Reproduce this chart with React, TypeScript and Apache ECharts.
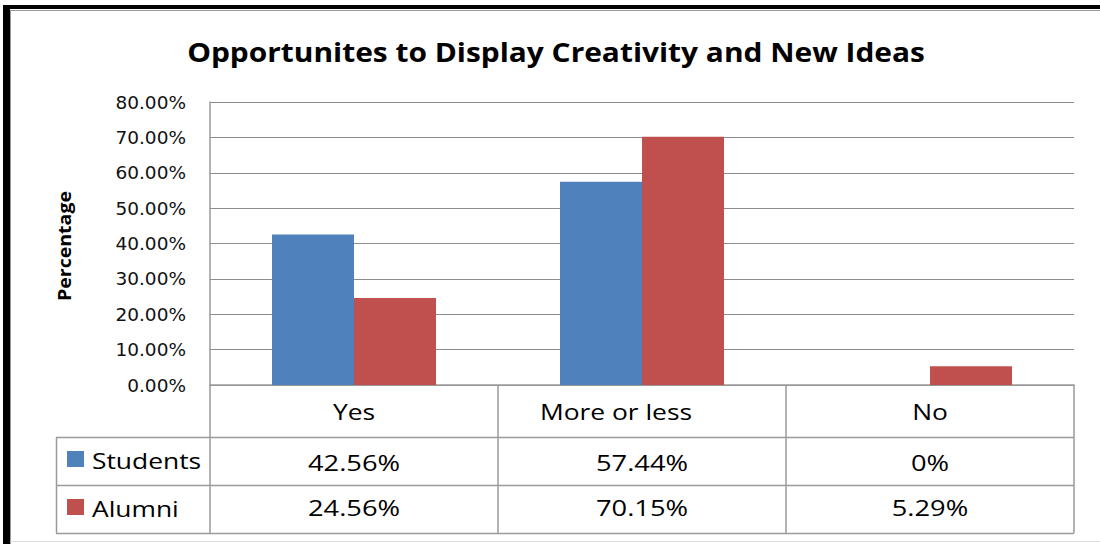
import React, { useEffect, useRef } from "react";
import * as echarts from "echarts";

const categories = ["Yes", "More or less", "No"];
const seriesNames = ["Students", "Alumni"];
const studentsValues = [42.56, 57.44, 0];
const alumniValues = [24.56, 70.15, 5.29];
const studentsLabels = ["42.56%", "57.44%", "0%"];
const alumniLabels = ["24.56%", "70.15%", "5.29%"];
const titleText = "Opportunites to Display Creativity and New Ideas";
const yAxisName = "Percentage";

const BLUE = "#4F81BD";
const RED = "#C0504D";
const LINE = "#9a9a9a";
const FONT = "'Open Sans', 'DejaVu Sans', sans-serif";
const SX = 1.2;
// horizontal nudges of the category header texts (as in the source picture)
const CAT_SHIFT = [0, -26, 0];

export default function App() {
  const ref = useRef<HTMLDivElement>(null);
  useEffect(() => {
    if (!ref.current) return;
    const chart = echarts.init(ref.current, null, { renderer: "svg" });
    const W = 1100, H = 544;
    const gl = 210, gr = 1074, gb = 385;
    const rowY = [437, 485, 533];
    const colW = (gr - gl) / categories.length;
    const graphics: any[] = [];
    // frame
    graphics.push({ type: "rect", shape: { x: 3, y: 5, width: W, height: 4 }, style: { fill: "#000" } });
    graphics.push({ type: "rect", shape: { x: 3, y: 5, width: 7, height: H }, style: { fill: "#000" } });
    graphics.push({ type: "line", shape: { x1: 11, y1: 10.5, x2: W, y2: 10.5 }, style: { stroke: "#999", lineWidth: 1 } });
    graphics.push({ type: "line", shape: { x1: 10.5, y1: 10, x2: 10.5, y2: H }, style: { stroke: "#999", lineWidth: 1 } });
    graphics.push({ type: "line", shape: { x1: 10, y1: 541.5, x2: W, y2: 541.5 }, style: { stroke: "#ddd", lineWidth: 1 } });
    // title
    graphics.push({
      type: "text", x: 556, y: 52, scaleX: 1.15,
      style: { text: titleText, font: `bold 26px ${FONT}`, fill: "#000", textAlign: "center", textVerticalAlign: "middle" },
    });
    // y axis name
    graphics.push({
      type: "text", x: 64, y: 246, rotation: Math.PI / 2, scaleX: 1.15,
      style: { text: yAxisName, font: `bold 17px ${FONT}`, fill: "#000", textAlign: "center", textVerticalAlign: "middle" },
    });
    // table lines
    rowY.forEach((y) => {
      graphics.push({ type: "line", shape: { x1: 56, y1: y + 0.5, x2: gr, y2: y + 0.5 }, style: { stroke: LINE, lineWidth: 1.5 } });
    });
    graphics.push({ type: "line", shape: { x1: 56.5, y1: rowY[0], x2: 56.5, y2: rowY[2] }, style: { stroke: LINE, lineWidth: 1.5 } });
    // category labels
    categories.forEach((c, i) => {
      graphics.push({
        type: "text", x: gl + colW * (i + 0.5) + CAT_SHIFT[i], y: 411, scaleX: SX,
        style: { text: c, font: `22px ${FONT}`, fill: "#000", textAlign: "center", textVerticalAlign: "middle" },
      });
    });
    // legend keys + values
    const rows = [
      { name: seriesNames[0], color: BLUE, labels: studentsLabels, cy: 460, ty: 463 },
      { name: seriesNames[1], color: RED, labels: alumniLabels, cy: 508, ty: 508 },
    ];
    rows.forEach((r) => {
      graphics.push({ type: "rect", shape: { x: 67, y: r.cy - 9, width: 17, height: 16 }, style: { fill: r.color } });
      graphics.push({
        type: "text", x: 92, y: r.cy, scaleX: SX,
        style: { text: r.name, font: `22px ${FONT}`, fill: "#000", textAlign: "left", textVerticalAlign: "middle" },
      });
      r.labels.forEach((t, i) => {
        graphics.push({
          type: "text", x: gl + colW * (i + 0.5), y: r.ty, scaleX: 1.24,
          style: { text: t, font: `22px ${FONT}`, fill: "#000", textAlign: "center", textVerticalAlign: "middle" },
        });
      });
    });

    chart.setOption({
      animation: false,
      backgroundColor: "#fff",
      grid: { left: gl, right: W - gr, top: 102, bottom: H - gb },
      xAxis: {
        type: "category",
        data: categories,
        axisLine: { lineStyle: { color: LINE, width: 1.5 } },
        axisTick: { show: true, length: 148, lineStyle: { color: LINE, width: 1.5 } },
        axisLabel: { show: false },
      },
      yAxis: {
        type: "value",
        min: 0,
        max: 80,
        interval: 10,
        axisLine: { show: true, lineStyle: { color: LINE, width: 1.5 } },
        axisTick: { show: false },
        axisLabel: {
          margin: 24,
          fontFamily: "'DejaVu Sans', sans-serif",
          fontSize: 18.5,
          color: "#111",
          formatter: (v: number) => v.toFixed(2) + "%",
        },
        splitLine: { lineStyle: { color: "#8c8c8c", width: 1 } },
      },
      series: [
        { name: seriesNames[0], type: "bar", data: studentsValues, barWidth: 82, barGap: "0%", itemStyle: { color: BLUE } },
        { name: seriesNames[1], type: "bar", data: alumniValues, barWidth: 82, barGap: "0%", itemStyle: { color: RED } },
      ],
      graphic: graphics,
    });
    return () => chart.dispose();
  }, []);
  return (
    <div
      ref={ref}
      style={{ position: "fixed", left: 0, top: 0, width: 1100, height: 544 }}
    />
  );
}
